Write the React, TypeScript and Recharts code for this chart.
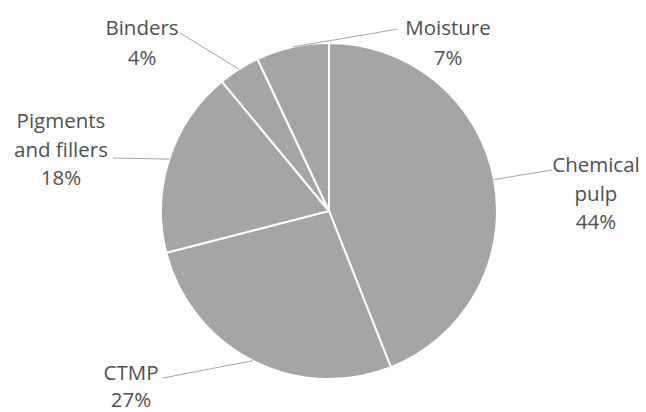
import React from "react";
import { PieChart, Pie, Cell } from "recharts";

const categories = ["Chemical pulp", "CTMP", "Pigments and fillers", "Binders", "Moisture"];
const values = [44, 27, 18, 4, 7];
const labelLines = [["Chemical", "pulp"], ["CTMP"], ["Pigments", "and fillers"], ["Binders"], ["Moisture"]];

const data = categories.map((name, i) => ({ name, value: values[i] }));

const CX = 329;
const CY = 211;
const R = 168;

// label layout: line end point and text position offsets relative to pie center
const LAYOUT = [
  { ex: 223, ey: -41, tx: 267, ty: -39, step: 28.5 },
  { ex: -166, ey: 167, tx: -198, ty: 169, step: 27 },
  { ex: -216, ey: -53, tx: -268, ty: -83, step: 28.5 },
  { ex: -149, ey: -178, tx: -187, ty: -176, step: 30 },
  { ex: 69, ey: -182, tx: 119, ty: -176, step: 30 },
];

const RAD = Math.PI / 180;
const TEXT_COLOR = "#505050";

const renderLabel = (props: any) => {
  const { midAngle, index, value } = props;
  const cx = typeof props.cx === "number" ? props.cx : CX;
  const cy = typeof props.cy === "number" ? props.cy : CY;
  const r = typeof props.outerRadius === "number" ? props.outerRadius : R;
  const sx = cx + r * Math.cos(-midAngle * RAD);
  const sy = cy + r * Math.sin(-midAngle * RAD);
  const L = LAYOUT[index];
  const lines = [...labelLines[index], `${value}%`];
  return (
    <g key={`lbl-${index}`}>
      <line x1={sx} y1={sy} x2={cx + L.ex} y2={cy + L.ey} stroke="#a6a6a6" strokeWidth={1} />
      <text
        x={cx + L.tx}
        y={cy + L.ty}
        textAnchor="middle"
        fill={TEXT_COLOR}
        fontFamily="'Open Sans', sans-serif"
        fontSize={20.5}
      >
        {lines.map((t, i) => (
          <tspan key={i} x={cx + L.tx} y={cy + L.ty + i * L.step}>
            {t}
          </tspan>
        ))}
      </text>
    </g>
  );
};

export default function App() {
  return (
    <div style={{ position: "absolute", left: 0, top: 0, width: 646, height: 412, background: "#fff" }}>
      <PieChart width={646} height={412} margin={{ top: 0, right: 0, bottom: 0, left: 0 }}>
        <Pie
          data={data}
          dataKey="value"
          nameKey="name"
          cx={CX}
          cy={CY}
          outerRadius={R}
          startAngle={90}
          endAngle={-270}
          stroke="#ffffff"
          strokeWidth={2}
          label={renderLabel}
          labelLine={false}
          isAnimationActive={false}
        >
          {data.map((d, i) => (
            <Cell key={i} fill="#a5a5a5" />
          ))}
        </Pie>
      </PieChart>
    </div>
  );
}
